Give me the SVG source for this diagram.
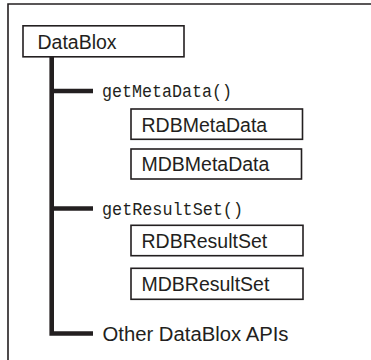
<svg xmlns="http://www.w3.org/2000/svg" width="371" height="360" viewBox="0 0 371 360">
<style>
.box{fill:#fff;stroke:#231f20;stroke-width:1.6}
.sans{font-family:"Liberation Sans",Arial,sans-serif;font-size:19.5px;fill:#231f20}
.mono{font-family:"Liberation Mono","DejaVu Sans Mono",monospace;font-size:17.5px;fill:#231f20}
.conn{fill:none;stroke:#231f20;stroke-width:4.6;stroke-linejoin:miter}
</style>
<rect width="371" height="360" fill="#fff"/>
<path d="M8 362 V4 H373" fill="none" stroke="#231f20" stroke-width="1.6"/>
<g id="connectors">
<path class="conn" d="M51.7 56.7 V333.5 H93"/>
<path class="conn" d="M51.7 91 H93"/>
<path class="conn" d="M51.7 208.5 H93"/>
</g>
<g id="datablox">
<rect class="box" x="23" y="25.8" width="161" height="31"/>
<text class="sans" x="37.5" y="49">DataBlox</text>
</g>
<g id="getMetaData">
<text class="mono" x="102" y="97" textLength="130" lengthAdjust="spacingAndGlyphs">getMetaData()</text>
</g>
<g id="RDBMetaData">
<rect class="box" x="131" y="109" width="171.5" height="30.3"/>
<text class="sans" x="141.5" y="131.5">RDBMetaData</text>
</g>
<g id="MDBMetaData">
<rect class="box" x="131" y="149" width="170.5" height="30"/>
<text class="sans" x="141.5" y="171">MDBMetaData</text>
</g>
<g id="getResultSet">
<text class="mono" x="102" y="215" textLength="141" lengthAdjust="spacingAndGlyphs">getResultSet()</text>
</g>
<g id="RDBResultSet">
<rect class="box" x="131" y="225.3" width="172" height="30.4"/>
<text class="sans" x="141.5" y="248">RDBResultSet</text>
</g>
<g id="MDBResultSet">
<rect class="box" x="131" y="268.3" width="172" height="31"/>
<text class="sans" x="141.5" y="291">MDBResultSet</text>
</g>
<g id="otherAPIs">
<text class="sans" x="102.5" y="340.5" textLength="186" lengthAdjust="spacingAndGlyphs">Other DataBlox APIs</text>
</g>
</svg>
